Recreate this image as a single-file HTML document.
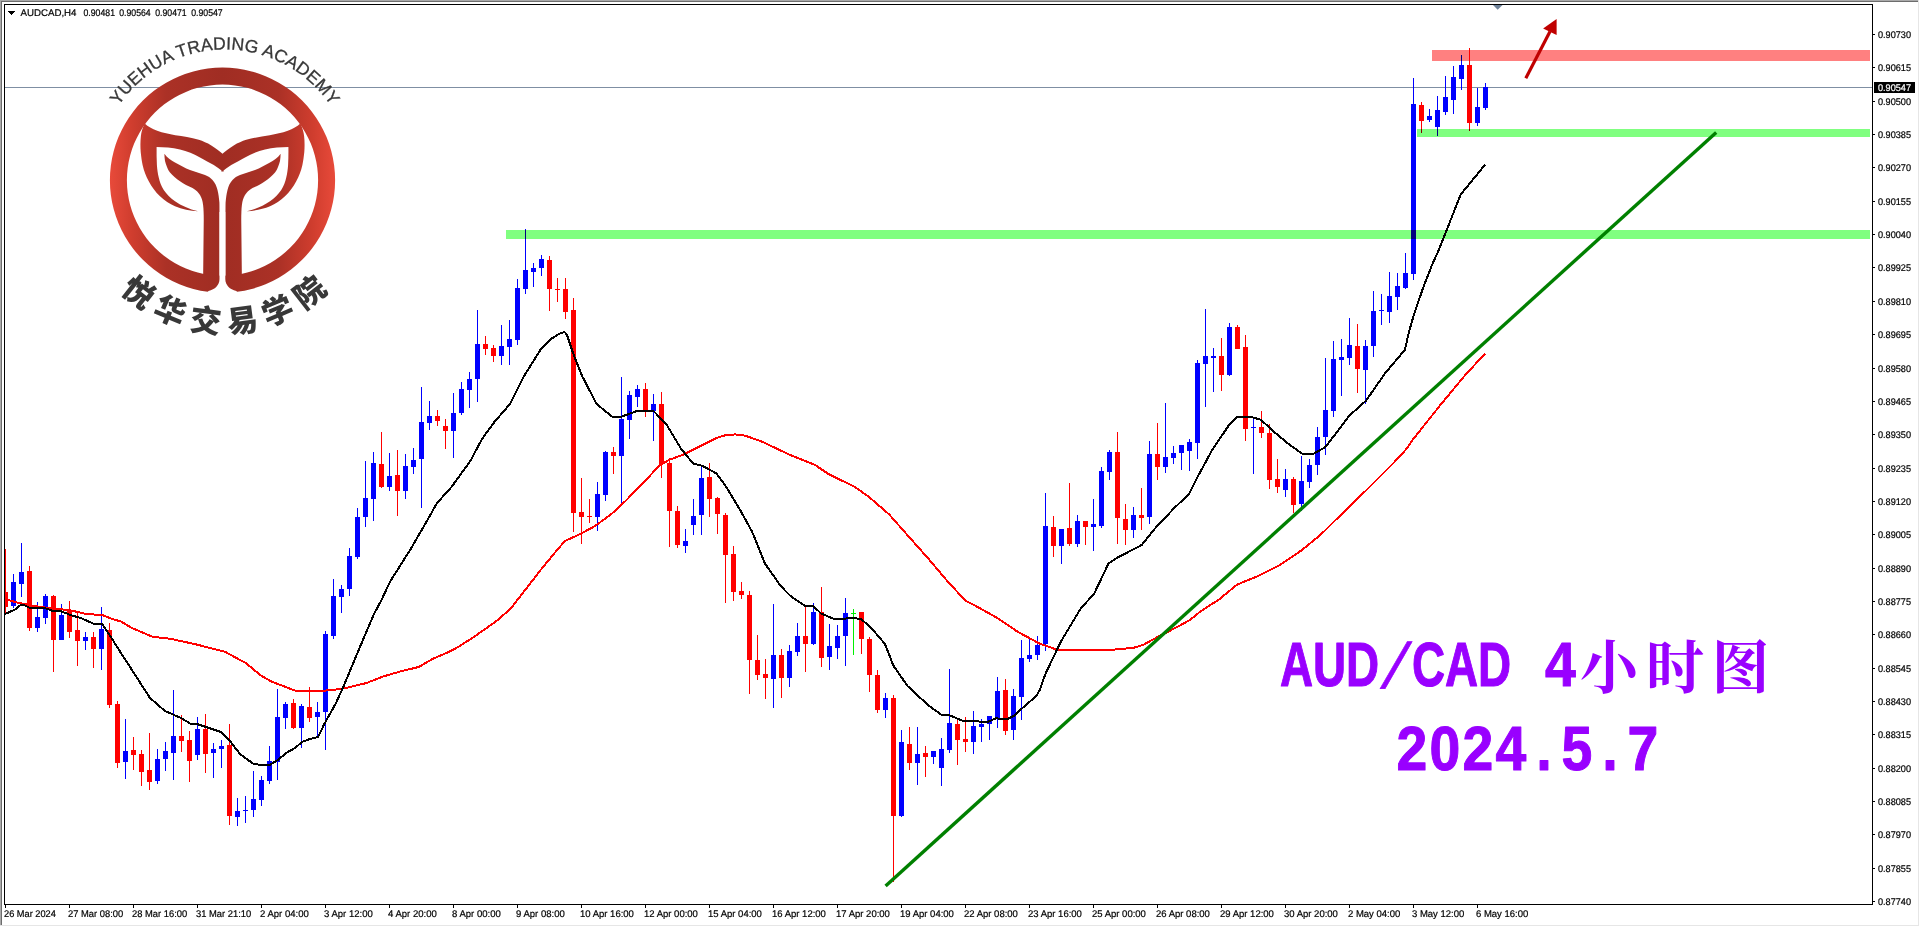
<!DOCTYPE html>
<html lang="zh"><head><meta charset="utf-8"><title>AUDCAD,H4</title>
<style>html,body{margin:0;padding:0;background:#fff;overflow:hidden}svg{display:block}.ax{font-family:"Liberation Sans",sans-serif;font-size:9.7px;fill:#000;stroke:#000;stroke-width:0.2px;text-rendering:geometricPrecision}.ttl{font-family:"Liberation Sans",sans-serif;font-size:9.7px;fill:#000;stroke:#000;stroke-width:0.2px;text-rendering:geometricPrecision}.big{font-family:"Liberation Sans","Noto Serif CJK SC",serif;font-weight:bold;fill:#9900ff}.lat{stroke:#9900ff;stroke-width:1px;stroke-linejoin:round}.cn{font-family:"Liberation Sans","Noto Sans CJK SC",sans-serif;font-weight:900;fill:#383838;font-size:31px;text-anchor:middle}.en{font-family:"Liberation Sans",sans-serif;fill:#383838;font-size:17.6px;stroke:#383838;stroke-width:0.3px}</style></head><body>
<svg width="1920" height="927" viewBox="0 0 1920 927">
<defs><linearGradient id="lg" gradientUnits="userSpaceOnUse" x1="110" y1="0" x2="335" y2="0"><stop offset="0" stop-color="#e84a3a"/><stop offset="0.1" stop-color="#cf3d2e"/><stop offset="0.25" stop-color="#ab3126"/><stop offset="0.5" stop-color="#a02d23"/><stop offset="0.75" stop-color="#ab3126"/><stop offset="0.9" stop-color="#cf3d2e"/><stop offset="1" stop-color="#e84a3a"/></linearGradient></defs>
<rect width="1920" height="927" fill="#fff"/>
<g shape-rendering="crispEdges">
<rect x="0" y="0" width="1918" height="1" fill="#a9a9a9"/>
<rect x="1" y="1" width="1917" height="1" fill="#6d6d6d"/>
<rect x="0" y="0" width="1" height="926" fill="#a9a9a9"/>
<rect x="1" y="1" width="1" height="924" fill="#6d6d6d"/>
<rect x="1918" y="0" width="1" height="926" fill="#e6e6e6"/>
<rect x="0" y="925" width="1919" height="1" fill="#e6e6e6"/>
</g>
<rect x="5" y="87" width="1867" height="1" fill="#7f8fa3" shape-rendering="crispEdges"/>
<g id="logo">
<path fill="url(#lg)" fill-rule="evenodd" d="M222.5,67.6a112.6,112.6 0 1 0 0.01,0Z M222.5,84.6a95.6,95.6 0 1 1 -0.01,0Z"/>
<path fill="url(#lg)" d="M223.4,154.4 C220,151.3 216,148.3 211.3,145.4 C207,142.9 203,141.2 198.75,139.8 C191,137.6 183,136.4 175.3,135.3 C169,134.2 163,132.8 157.2,130.8 C152,129 148,126.5 144.7,123.5 C142.5,128 141.3,132 140.9,136 C140.3,141 140.3,147 140.7,152 C141.2,157 141.8,161 142.6,165 C144,171 146,176.5 148.75,181.25 C151.8,187 155.5,192 160,196.25 C164.5,200.5 169.5,203.8 175,206.25 C182,209.2 190,210.7 198.1,211.25 C189,209 181.5,205.8 175,201.25 C170.3,197.9 166.6,194.2 163.75,190 C161.3,186.2 159.7,182 158.75,177.5 C157.7,173.5 157.2,169.3 156.9,165 C156.6,159 156.5,153 156.6,146.9 C164,146.9 172,147.6 180,149.4 C187,151 194,154 200,157.5 C205,160.3 209.5,162.6 213.75,165 C217,167 220,169.3 223.4,171.9 Z"/><path fill="url(#lg)" d="M164.4,153.75 C167,157.5 171,160.3 175,162.5 C180,165.3 185,168 190,170 C195,172 200,173.2 205,175 C208,176.2 210.5,177.8 212.5,180 C215,182.8 216.6,186 217.5,190 C218.5,194 219,198 219.4,202.5 C219.5,206 219.5,210 219.5,214.6 L219.5,279 C219.5,285 215,289.5 208.5,291 L203,289 L203.75,220 C203.75,217 203.7,214.5 203.6,212 C203.5,209.5 203.4,207 203.1,205 C202.8,203 202.5,201 202,199.5 C201.5,198 200.8,196.3 200,195 C199,193.5 198,192.3 197,191.3 C195.5,190 194,189 192.5,188.1 C190.5,187 188,186 186,185 C184,184 182,182.7 180,181.25 C178,180 176.2,178.6 174.5,177 C172.8,175.5 171.3,174 170,172.5 C168.7,171 167.8,169 167,167 C166.2,165 165.5,163 165,161 C164.6,158.5 164.4,156 164.4,153.75 Z"/>
<g transform="translate(445,0) scale(-1,1)"><path fill="url(#lg)" d="M223.4,154.4 C220,151.3 216,148.3 211.3,145.4 C207,142.9 203,141.2 198.75,139.8 C191,137.6 183,136.4 175.3,135.3 C169,134.2 163,132.8 157.2,130.8 C152,129 148,126.5 144.7,123.5 C142.5,128 141.3,132 140.9,136 C140.3,141 140.3,147 140.7,152 C141.2,157 141.8,161 142.6,165 C144,171 146,176.5 148.75,181.25 C151.8,187 155.5,192 160,196.25 C164.5,200.5 169.5,203.8 175,206.25 C182,209.2 190,210.7 198.1,211.25 C189,209 181.5,205.8 175,201.25 C170.3,197.9 166.6,194.2 163.75,190 C161.3,186.2 159.7,182 158.75,177.5 C157.7,173.5 157.2,169.3 156.9,165 C156.6,159 156.5,153 156.6,146.9 C164,146.9 172,147.6 180,149.4 C187,151 194,154 200,157.5 C205,160.3 209.5,162.6 213.75,165 C217,167 220,169.3 223.4,171.9 Z"/><path fill="url(#lg)" d="M164.4,153.75 C167,157.5 171,160.3 175,162.5 C180,165.3 185,168 190,170 C195,172 200,173.2 205,175 C208,176.2 210.5,177.8 212.5,180 C215,182.8 216.6,186 217.5,190 C218.5,194 219,198 219.4,202.5 C219.5,206 219.5,210 219.5,214.6 L219.5,279 C219.5,285 215,289.5 208.5,291 L203,289 L203.75,220 C203.75,217 203.7,214.5 203.6,212 C203.5,209.5 203.4,207 203.1,205 C202.8,203 202.5,201 202,199.5 C201.5,198 200.8,196.3 200,195 C199,193.5 198,192.3 197,191.3 C195.5,190 194,189 192.5,188.1 C190.5,187 188,186 186,185 C184,184 182,182.7 180,181.25 C178,180 176.2,178.6 174.5,177 C172.8,175.5 171.3,174 170,172.5 C168.7,171 167.8,169 167,167 C166.2,165 165.5,163 165,161 C164.6,158.5 164.4,156 164.4,153.75 Z"/></g>
<path fill="#fff" d="M219.5,212 L219.5,279 C219.5,285 215,289.5 208.5,291 L206,294 L238.8,294 L236.3,291 C229.8,289.5 225.3,285 225.3,279 L225.3,212 Z"/>
<path id="arc1" fill="none" d="M104.37,133.72 A128.0,128.0 0 0 1 344.93,133.72"/>
<text class="en" text-anchor="middle"><textPath href="#arc1" startOffset="50%" textLength="250" lengthAdjust="spacing">YUEHUA TRADING ACADEMY</textPath></text>
<g><text class="cn" transform="translate(138.4,292.5) rotate(38)" y="11">悦</text><text class="cn" transform="translate(170.1,311.1) rotate(22.8)" y="11">华</text><text class="cn" transform="translate(205.6,320.8) rotate(7.6)" y="11">交</text><text class="cn" transform="translate(242.4,320.8) rotate(-7.6)" y="11">易</text><text class="cn" transform="translate(277.9,311.1) rotate(-22.8)" y="11">学</text><text class="cn" transform="translate(309.6,292.5) rotate(-38)" y="11">院</text></g>
</g>
<g shape-rendering="crispEdges">
<rect x="5" y="549" width="1" height="64" fill="#ff0000"/>
<rect x="5" y="592" width="3" height="15" fill="#ff0000"/>
<rect x="13" y="574" width="1" height="34" fill="#0000ff"/>
<rect x="11" y="582" width="5" height="24" fill="#0000ff"/>
<rect x="21" y="543" width="1" height="54" fill="#0000ff"/>
<rect x="19" y="572" width="5" height="12" fill="#0000ff"/>
<rect x="29" y="566" width="1" height="65" fill="#ff0000"/>
<rect x="27" y="571" width="5" height="57" fill="#ff0000"/>
<rect x="37" y="602" width="1" height="30" fill="#0000ff"/>
<rect x="35" y="617" width="5" height="11" fill="#0000ff"/>
<rect x="45" y="594" width="1" height="30" fill="#0000ff"/>
<rect x="43" y="596" width="5" height="22" fill="#0000ff"/>
<rect x="53" y="595" width="1" height="77" fill="#ff0000"/>
<rect x="51" y="596" width="5" height="44" fill="#ff0000"/>
<rect x="61" y="604" width="1" height="36" fill="#0000ff"/>
<rect x="59" y="615" width="5" height="25" fill="#0000ff"/>
<rect x="69" y="601" width="1" height="37" fill="#ff0000"/>
<rect x="67" y="611" width="5" height="21" fill="#ff0000"/>
<rect x="77" y="613" width="1" height="53" fill="#ff0000"/>
<rect x="75" y="630" width="5" height="11" fill="#ff0000"/>
<rect x="85" y="632" width="1" height="18" fill="#0000ff"/>
<rect x="83" y="637" width="5" height="4" fill="#0000ff"/>
<rect x="93" y="632" width="1" height="36" fill="#ff0000"/>
<rect x="91" y="637" width="5" height="12" fill="#ff0000"/>
<rect x="101" y="607" width="1" height="63" fill="#0000ff"/>
<rect x="99" y="629" width="5" height="20" fill="#0000ff"/>
<rect x="109" y="623" width="1" height="85" fill="#ff0000"/>
<rect x="107" y="630" width="5" height="75" fill="#ff0000"/>
<rect x="117" y="701" width="1" height="67" fill="#ff0000"/>
<rect x="115" y="704" width="5" height="59" fill="#ff0000"/>
<rect x="125" y="719" width="1" height="60" fill="#0000ff"/>
<rect x="123" y="751" width="5" height="11" fill="#0000ff"/>
<rect x="133" y="737" width="1" height="33" fill="#ff0000"/>
<rect x="131" y="750" width="5" height="5" fill="#ff0000"/>
<rect x="141" y="750" width="1" height="36" fill="#ff0000"/>
<rect x="139" y="754" width="5" height="18" fill="#ff0000"/>
<rect x="149" y="733" width="1" height="57" fill="#ff0000"/>
<rect x="147" y="770" width="5" height="12" fill="#ff0000"/>
<rect x="157" y="749" width="1" height="35" fill="#0000ff"/>
<rect x="155" y="759" width="5" height="22" fill="#0000ff"/>
<rect x="165" y="742" width="1" height="29" fill="#0000ff"/>
<rect x="163" y="751" width="5" height="8" fill="#0000ff"/>
<rect x="173" y="690" width="1" height="90" fill="#0000ff"/>
<rect x="171" y="736" width="5" height="17" fill="#0000ff"/>
<rect x="181" y="715" width="1" height="37" fill="#ff0000"/>
<rect x="179" y="736" width="5" height="5" fill="#ff0000"/>
<rect x="189" y="731" width="1" height="51" fill="#ff0000"/>
<rect x="187" y="740" width="5" height="21" fill="#ff0000"/>
<rect x="197" y="717" width="1" height="43" fill="#0000ff"/>
<rect x="195" y="729" width="5" height="26" fill="#0000ff"/>
<rect x="205" y="714" width="1" height="59" fill="#ff0000"/>
<rect x="203" y="729" width="5" height="25" fill="#ff0000"/>
<rect x="213" y="743" width="1" height="35" fill="#0000ff"/>
<rect x="211" y="749" width="5" height="4" fill="#0000ff"/>
<rect x="221" y="740" width="1" height="28" fill="#0000ff"/>
<rect x="219" y="746" width="5" height="3" fill="#0000ff"/>
<rect x="229" y="724" width="1" height="101" fill="#ff0000"/>
<rect x="227" y="745" width="5" height="71" fill="#ff0000"/>
<rect x="237" y="798" width="1" height="28" fill="#0000ff"/>
<rect x="235" y="811" width="5" height="6" fill="#0000ff"/>
<rect x="245" y="796" width="1" height="27" fill="#0000ff"/>
<rect x="243" y="810" width="5" height="1" fill="#0000ff"/>
<rect x="253" y="771" width="1" height="46" fill="#0000ff"/>
<rect x="251" y="799" width="5" height="11" fill="#0000ff"/>
<rect x="261" y="776" width="1" height="30" fill="#0000ff"/>
<rect x="259" y="780" width="5" height="20" fill="#0000ff"/>
<rect x="269" y="746" width="1" height="38" fill="#0000ff"/>
<rect x="267" y="761" width="5" height="20" fill="#0000ff"/>
<rect x="277" y="689" width="1" height="91" fill="#0000ff"/>
<rect x="275" y="717" width="5" height="45" fill="#0000ff"/>
<rect x="285" y="702" width="1" height="27" fill="#0000ff"/>
<rect x="283" y="704" width="5" height="14" fill="#0000ff"/>
<rect x="293" y="699" width="1" height="30" fill="#ff0000"/>
<rect x="291" y="703" width="5" height="25" fill="#ff0000"/>
<rect x="301" y="704" width="1" height="44" fill="#0000ff"/>
<rect x="299" y="706" width="5" height="22" fill="#0000ff"/>
<rect x="309" y="687" width="1" height="35" fill="#ff0000"/>
<rect x="307" y="707" width="5" height="11" fill="#ff0000"/>
<rect x="317" y="702" width="1" height="35" fill="#0000ff"/>
<rect x="315" y="712" width="5" height="5" fill="#0000ff"/>
<rect x="325" y="631" width="1" height="119" fill="#0000ff"/>
<rect x="323" y="634" width="5" height="78" fill="#0000ff"/>
<rect x="333" y="579" width="1" height="60" fill="#0000ff"/>
<rect x="331" y="596" width="5" height="40" fill="#0000ff"/>
<rect x="341" y="585" width="1" height="28" fill="#0000ff"/>
<rect x="339" y="589" width="5" height="8" fill="#0000ff"/>
<rect x="349" y="548" width="1" height="48" fill="#0000ff"/>
<rect x="347" y="556" width="5" height="33" fill="#0000ff"/>
<rect x="357" y="508" width="1" height="51" fill="#0000ff"/>
<rect x="355" y="517" width="5" height="40" fill="#0000ff"/>
<rect x="365" y="461" width="1" height="66" fill="#0000ff"/>
<rect x="363" y="498" width="5" height="19" fill="#0000ff"/>
<rect x="373" y="452" width="1" height="69" fill="#0000ff"/>
<rect x="371" y="463" width="5" height="36" fill="#0000ff"/>
<rect x="381" y="432" width="1" height="56" fill="#ff0000"/>
<rect x="379" y="464" width="5" height="23" fill="#ff0000"/>
<rect x="389" y="453" width="1" height="38" fill="#0000ff"/>
<rect x="387" y="476" width="5" height="11" fill="#0000ff"/>
<rect x="397" y="450" width="1" height="66" fill="#ff0000"/>
<rect x="395" y="475" width="5" height="16" fill="#ff0000"/>
<rect x="405" y="454" width="1" height="45" fill="#0000ff"/>
<rect x="403" y="466" width="5" height="25" fill="#0000ff"/>
<rect x="413" y="448" width="1" height="26" fill="#0000ff"/>
<rect x="411" y="460" width="5" height="7" fill="#0000ff"/>
<rect x="421" y="387" width="1" height="121" fill="#0000ff"/>
<rect x="419" y="422" width="5" height="37" fill="#0000ff"/>
<rect x="429" y="401" width="1" height="29" fill="#0000ff"/>
<rect x="427" y="416" width="5" height="7" fill="#0000ff"/>
<rect x="437" y="410" width="1" height="16" fill="#ff0000"/>
<rect x="435" y="416" width="5" height="5" fill="#ff0000"/>
<rect x="445" y="419" width="1" height="30" fill="#ff0000"/>
<rect x="443" y="426" width="5" height="5" fill="#ff0000"/>
<rect x="453" y="393" width="1" height="65" fill="#0000ff"/>
<rect x="451" y="413" width="5" height="18" fill="#0000ff"/>
<rect x="461" y="382" width="1" height="33" fill="#0000ff"/>
<rect x="459" y="389" width="5" height="24" fill="#0000ff"/>
<rect x="469" y="372" width="1" height="36" fill="#0000ff"/>
<rect x="467" y="379" width="5" height="11" fill="#0000ff"/>
<rect x="477" y="310" width="1" height="92" fill="#0000ff"/>
<rect x="475" y="344" width="5" height="35" fill="#0000ff"/>
<rect x="485" y="336" width="1" height="19" fill="#ff0000"/>
<rect x="483" y="344" width="5" height="5" fill="#ff0000"/>
<rect x="493" y="345" width="1" height="17" fill="#ff0000"/>
<rect x="491" y="348" width="5" height="8" fill="#ff0000"/>
<rect x="501" y="325" width="1" height="40" fill="#0000ff"/>
<rect x="499" y="346" width="5" height="10" fill="#0000ff"/>
<rect x="509" y="320" width="1" height="45" fill="#0000ff"/>
<rect x="507" y="339" width="5" height="8" fill="#0000ff"/>
<rect x="517" y="279" width="1" height="66" fill="#0000ff"/>
<rect x="515" y="288" width="5" height="52" fill="#0000ff"/>
<rect x="525" y="229" width="1" height="65" fill="#0000ff"/>
<rect x="523" y="270" width="5" height="19" fill="#0000ff"/>
<rect x="533" y="263" width="1" height="24" fill="#0000ff"/>
<rect x="531" y="268" width="5" height="4" fill="#0000ff"/>
<rect x="541" y="255" width="1" height="21" fill="#0000ff"/>
<rect x="539" y="259" width="5" height="9" fill="#0000ff"/>
<rect x="549" y="256" width="1" height="55" fill="#ff0000"/>
<rect x="547" y="260" width="5" height="29" fill="#ff0000"/>
<rect x="557" y="278" width="1" height="24" fill="#ff0000"/>
<rect x="555" y="289" width="5" height="1" fill="#ff0000"/>
<rect x="565" y="278" width="1" height="41" fill="#ff0000"/>
<rect x="563" y="289" width="5" height="23" fill="#ff0000"/>
<rect x="573" y="298" width="1" height="234" fill="#ff0000"/>
<rect x="571" y="310" width="5" height="203" fill="#ff0000"/>
<rect x="581" y="478" width="1" height="66" fill="#ff0000"/>
<rect x="579" y="512" width="5" height="5" fill="#ff0000"/>
<rect x="589" y="499" width="1" height="24" fill="#ff0000"/>
<rect x="587" y="516" width="5" height="1" fill="#ff0000"/>
<rect x="597" y="482" width="1" height="49" fill="#0000ff"/>
<rect x="595" y="494" width="5" height="23" fill="#0000ff"/>
<rect x="605" y="451" width="1" height="50" fill="#0000ff"/>
<rect x="603" y="452" width="5" height="43" fill="#0000ff"/>
<rect x="613" y="447" width="1" height="27" fill="#ff0000"/>
<rect x="611" y="452" width="5" height="4" fill="#ff0000"/>
<rect x="621" y="377" width="1" height="127" fill="#0000ff"/>
<rect x="619" y="419" width="5" height="37" fill="#0000ff"/>
<rect x="629" y="391" width="1" height="48" fill="#0000ff"/>
<rect x="627" y="395" width="5" height="25" fill="#0000ff"/>
<rect x="637" y="385" width="1" height="22" fill="#0000ff"/>
<rect x="635" y="389" width="5" height="8" fill="#0000ff"/>
<rect x="645" y="383" width="1" height="34" fill="#ff0000"/>
<rect x="643" y="389" width="5" height="22" fill="#ff0000"/>
<rect x="653" y="394" width="1" height="47" fill="#0000ff"/>
<rect x="651" y="404" width="5" height="7" fill="#0000ff"/>
<rect x="661" y="392" width="1" height="86" fill="#ff0000"/>
<rect x="659" y="404" width="5" height="60" fill="#ff0000"/>
<rect x="669" y="458" width="1" height="89" fill="#ff0000"/>
<rect x="667" y="463" width="5" height="48" fill="#ff0000"/>
<rect x="677" y="506" width="1" height="42" fill="#ff0000"/>
<rect x="675" y="511" width="5" height="34" fill="#ff0000"/>
<rect x="685" y="529" width="1" height="24" fill="#0000ff"/>
<rect x="683" y="541" width="5" height="5" fill="#0000ff"/>
<rect x="693" y="499" width="1" height="36" fill="#0000ff"/>
<rect x="691" y="516" width="5" height="9" fill="#0000ff"/>
<rect x="701" y="466" width="1" height="69" fill="#0000ff"/>
<rect x="699" y="478" width="5" height="37" fill="#0000ff"/>
<rect x="709" y="463" width="1" height="54" fill="#ff0000"/>
<rect x="707" y="477" width="5" height="22" fill="#ff0000"/>
<rect x="717" y="497" width="1" height="37" fill="#ff0000"/>
<rect x="715" y="498" width="5" height="16" fill="#ff0000"/>
<rect x="725" y="513" width="1" height="90" fill="#ff0000"/>
<rect x="723" y="515" width="5" height="40" fill="#ff0000"/>
<rect x="733" y="546" width="1" height="55" fill="#ff0000"/>
<rect x="731" y="554" width="5" height="38" fill="#ff0000"/>
<rect x="741" y="582" width="1" height="17" fill="#ff0000"/>
<rect x="739" y="591" width="5" height="4" fill="#ff0000"/>
<rect x="749" y="591" width="1" height="103" fill="#ff0000"/>
<rect x="747" y="595" width="5" height="65" fill="#ff0000"/>
<rect x="757" y="635" width="1" height="45" fill="#ff0000"/>
<rect x="755" y="660" width="5" height="15" fill="#ff0000"/>
<rect x="765" y="659" width="1" height="40" fill="#ff0000"/>
<rect x="763" y="674" width="5" height="4" fill="#ff0000"/>
<rect x="773" y="604" width="1" height="104" fill="#0000ff"/>
<rect x="771" y="655" width="5" height="24" fill="#0000ff"/>
<rect x="781" y="649" width="1" height="49" fill="#ff0000"/>
<rect x="779" y="655" width="5" height="23" fill="#ff0000"/>
<rect x="789" y="645" width="1" height="42" fill="#0000ff"/>
<rect x="787" y="651" width="5" height="27" fill="#0000ff"/>
<rect x="797" y="623" width="1" height="33" fill="#0000ff"/>
<rect x="795" y="636" width="5" height="16" fill="#0000ff"/>
<rect x="805" y="607" width="1" height="65" fill="#ff0000"/>
<rect x="803" y="636" width="5" height="8" fill="#ff0000"/>
<rect x="813" y="603" width="1" height="42" fill="#0000ff"/>
<rect x="811" y="612" width="5" height="32" fill="#0000ff"/>
<rect x="821" y="587" width="1" height="80" fill="#ff0000"/>
<rect x="819" y="612" width="5" height="46" fill="#ff0000"/>
<rect x="829" y="624" width="1" height="46" fill="#0000ff"/>
<rect x="827" y="646" width="5" height="11" fill="#0000ff"/>
<rect x="837" y="625" width="1" height="34" fill="#0000ff"/>
<rect x="835" y="636" width="5" height="12" fill="#0000ff"/>
<rect x="845" y="598" width="1" height="68" fill="#0000ff"/>
<rect x="843" y="613" width="5" height="23" fill="#0000ff"/>
<rect x="853" y="609" width="1" height="46" fill="#00f000"/>
<rect x="851" y="613" width="5" height="1" fill="#00f000"/>
<rect x="861" y="612" width="1" height="42" fill="#ff0000"/>
<rect x="859" y="612" width="5" height="27" fill="#ff0000"/>
<rect x="869" y="637" width="1" height="55" fill="#ff0000"/>
<rect x="867" y="639" width="5" height="36" fill="#ff0000"/>
<rect x="877" y="670" width="1" height="43" fill="#ff0000"/>
<rect x="875" y="675" width="5" height="35" fill="#ff0000"/>
<rect x="885" y="693" width="1" height="25" fill="#0000ff"/>
<rect x="883" y="698" width="5" height="12" fill="#0000ff"/>
<rect x="893" y="695" width="1" height="187" fill="#ff0000"/>
<rect x="891" y="698" width="5" height="118" fill="#ff0000"/>
<rect x="901" y="730" width="1" height="87" fill="#0000ff"/>
<rect x="899" y="742" width="5" height="74" fill="#0000ff"/>
<rect x="909" y="727" width="1" height="43" fill="#ff0000"/>
<rect x="907" y="744" width="5" height="19" fill="#ff0000"/>
<rect x="917" y="727" width="1" height="58" fill="#0000ff"/>
<rect x="915" y="754" width="5" height="9" fill="#0000ff"/>
<rect x="925" y="746" width="1" height="31" fill="#ff0000"/>
<rect x="923" y="753" width="5" height="4" fill="#ff0000"/>
<rect x="933" y="751" width="1" height="13" fill="#0000ff"/>
<rect x="931" y="751" width="5" height="6" fill="#0000ff"/>
<rect x="941" y="738" width="1" height="48" fill="#0000ff"/>
<rect x="939" y="749" width="5" height="19" fill="#0000ff"/>
<rect x="949" y="669" width="1" height="84" fill="#0000ff"/>
<rect x="947" y="723" width="5" height="27" fill="#0000ff"/>
<rect x="957" y="719" width="1" height="46" fill="#ff0000"/>
<rect x="955" y="724" width="5" height="16" fill="#ff0000"/>
<rect x="965" y="717" width="1" height="35" fill="#ff0000"/>
<rect x="963" y="739" width="5" height="3" fill="#ff0000"/>
<rect x="973" y="711" width="1" height="43" fill="#0000ff"/>
<rect x="971" y="726" width="5" height="16" fill="#0000ff"/>
<rect x="981" y="719" width="1" height="23" fill="#0000ff"/>
<rect x="979" y="724" width="5" height="3" fill="#0000ff"/>
<rect x="989" y="716" width="1" height="24" fill="#0000ff"/>
<rect x="987" y="716" width="5" height="8" fill="#0000ff"/>
<rect x="997" y="677" width="1" height="51" fill="#0000ff"/>
<rect x="995" y="691" width="5" height="27" fill="#0000ff"/>
<rect x="1005" y="679" width="1" height="56" fill="#ff0000"/>
<rect x="1003" y="690" width="5" height="41" fill="#ff0000"/>
<rect x="1013" y="689" width="1" height="51" fill="#0000ff"/>
<rect x="1011" y="696" width="5" height="34" fill="#0000ff"/>
<rect x="1021" y="640" width="1" height="80" fill="#0000ff"/>
<rect x="1019" y="658" width="5" height="39" fill="#0000ff"/>
<rect x="1029" y="639" width="1" height="23" fill="#0000ff"/>
<rect x="1027" y="655" width="5" height="4" fill="#0000ff"/>
<rect x="1037" y="636" width="1" height="24" fill="#0000ff"/>
<rect x="1035" y="645" width="5" height="10" fill="#0000ff"/>
<rect x="1045" y="493" width="1" height="158" fill="#0000ff"/>
<rect x="1043" y="526" width="5" height="118" fill="#0000ff"/>
<rect x="1053" y="516" width="1" height="41" fill="#ff0000"/>
<rect x="1051" y="527" width="5" height="19" fill="#ff0000"/>
<rect x="1061" y="529" width="1" height="35" fill="#0000ff"/>
<rect x="1059" y="529" width="5" height="17" fill="#0000ff"/>
<rect x="1069" y="483" width="1" height="63" fill="#ff0000"/>
<rect x="1067" y="528" width="5" height="16" fill="#ff0000"/>
<rect x="1077" y="515" width="1" height="32" fill="#0000ff"/>
<rect x="1075" y="521" width="5" height="23" fill="#0000ff"/>
<rect x="1085" y="521" width="1" height="24" fill="#ff0000"/>
<rect x="1083" y="521" width="5" height="6" fill="#ff0000"/>
<rect x="1093" y="499" width="1" height="52" fill="#0000ff"/>
<rect x="1091" y="524" width="5" height="3" fill="#0000ff"/>
<rect x="1101" y="467" width="1" height="61" fill="#0000ff"/>
<rect x="1099" y="471" width="5" height="55" fill="#0000ff"/>
<rect x="1109" y="450" width="1" height="30" fill="#0000ff"/>
<rect x="1107" y="452" width="5" height="20" fill="#0000ff"/>
<rect x="1117" y="432" width="1" height="112" fill="#ff0000"/>
<rect x="1115" y="452" width="5" height="66" fill="#ff0000"/>
<rect x="1125" y="504" width="1" height="41" fill="#ff0000"/>
<rect x="1123" y="519" width="5" height="11" fill="#ff0000"/>
<rect x="1133" y="507" width="1" height="31" fill="#0000ff"/>
<rect x="1131" y="515" width="5" height="15" fill="#0000ff"/>
<rect x="1141" y="488" width="1" height="42" fill="#ff0000"/>
<rect x="1139" y="515" width="5" height="3" fill="#ff0000"/>
<rect x="1149" y="441" width="1" height="83" fill="#0000ff"/>
<rect x="1147" y="454" width="5" height="63" fill="#0000ff"/>
<rect x="1157" y="423" width="1" height="57" fill="#ff0000"/>
<rect x="1155" y="454" width="5" height="13" fill="#ff0000"/>
<rect x="1165" y="403" width="1" height="70" fill="#0000ff"/>
<rect x="1163" y="457" width="5" height="10" fill="#0000ff"/>
<rect x="1173" y="446" width="1" height="18" fill="#0000ff"/>
<rect x="1171" y="453" width="5" height="5" fill="#0000ff"/>
<rect x="1181" y="445" width="1" height="25" fill="#0000ff"/>
<rect x="1179" y="445" width="5" height="8" fill="#0000ff"/>
<rect x="1189" y="439" width="1" height="32" fill="#0000ff"/>
<rect x="1187" y="442" width="5" height="9" fill="#0000ff"/>
<rect x="1197" y="360" width="1" height="99" fill="#0000ff"/>
<rect x="1195" y="363" width="5" height="80" fill="#0000ff"/>
<rect x="1205" y="309" width="1" height="98" fill="#0000ff"/>
<rect x="1203" y="356" width="5" height="8" fill="#0000ff"/>
<rect x="1213" y="348" width="1" height="44" fill="#0000ff"/>
<rect x="1211" y="356" width="5" height="2" fill="#0000ff"/>
<rect x="1221" y="338" width="1" height="53" fill="#ff0000"/>
<rect x="1219" y="356" width="5" height="19" fill="#ff0000"/>
<rect x="1229" y="323" width="1" height="53" fill="#0000ff"/>
<rect x="1227" y="327" width="5" height="48" fill="#0000ff"/>
<rect x="1237" y="325" width="1" height="24" fill="#ff0000"/>
<rect x="1235" y="327" width="5" height="22" fill="#ff0000"/>
<rect x="1245" y="335" width="1" height="106" fill="#ff0000"/>
<rect x="1243" y="347" width="5" height="82" fill="#ff0000"/>
<rect x="1253" y="419" width="1" height="55" fill="#0000ff"/>
<rect x="1251" y="427" width="5" height="1" fill="#0000ff"/>
<rect x="1261" y="411" width="1" height="27" fill="#ff0000"/>
<rect x="1259" y="427" width="5" height="6" fill="#ff0000"/>
<rect x="1269" y="424" width="1" height="65" fill="#ff0000"/>
<rect x="1267" y="433" width="5" height="47" fill="#ff0000"/>
<rect x="1277" y="459" width="1" height="34" fill="#ff0000"/>
<rect x="1275" y="479" width="5" height="8" fill="#ff0000"/>
<rect x="1285" y="469" width="1" height="28" fill="#0000ff"/>
<rect x="1283" y="479" width="5" height="11" fill="#0000ff"/>
<rect x="1293" y="477" width="1" height="36" fill="#ff0000"/>
<rect x="1291" y="479" width="5" height="26" fill="#ff0000"/>
<rect x="1301" y="456" width="1" height="55" fill="#0000ff"/>
<rect x="1299" y="481" width="5" height="23" fill="#0000ff"/>
<rect x="1309" y="459" width="1" height="29" fill="#0000ff"/>
<rect x="1307" y="465" width="5" height="17" fill="#0000ff"/>
<rect x="1317" y="427" width="1" height="48" fill="#0000ff"/>
<rect x="1315" y="437" width="5" height="28" fill="#0000ff"/>
<rect x="1325" y="358" width="1" height="97" fill="#0000ff"/>
<rect x="1323" y="410" width="5" height="27" fill="#0000ff"/>
<rect x="1333" y="341" width="1" height="76" fill="#0000ff"/>
<rect x="1331" y="359" width="5" height="52" fill="#0000ff"/>
<rect x="1341" y="339" width="1" height="57" fill="#0000ff"/>
<rect x="1339" y="357" width="5" height="3" fill="#0000ff"/>
<rect x="1349" y="318" width="1" height="47" fill="#0000ff"/>
<rect x="1347" y="345" width="5" height="13" fill="#0000ff"/>
<rect x="1357" y="324" width="1" height="69" fill="#ff0000"/>
<rect x="1355" y="346" width="5" height="23" fill="#ff0000"/>
<rect x="1365" y="340" width="1" height="64" fill="#0000ff"/>
<rect x="1363" y="346" width="5" height="24" fill="#0000ff"/>
<rect x="1373" y="291" width="1" height="66" fill="#0000ff"/>
<rect x="1371" y="311" width="5" height="35" fill="#0000ff"/>
<rect x="1381" y="294" width="1" height="31" fill="#0000ff"/>
<rect x="1379" y="310" width="5" height="1" fill="#0000ff"/>
<rect x="1389" y="272" width="1" height="51" fill="#0000ff"/>
<rect x="1387" y="296" width="5" height="16" fill="#0000ff"/>
<rect x="1397" y="273" width="1" height="37" fill="#0000ff"/>
<rect x="1395" y="286" width="5" height="11" fill="#0000ff"/>
<rect x="1405" y="253" width="1" height="36" fill="#0000ff"/>
<rect x="1403" y="273" width="5" height="15" fill="#0000ff"/>
<rect x="1413" y="78" width="1" height="202" fill="#0000ff"/>
<rect x="1411" y="104" width="5" height="170" fill="#0000ff"/>
<rect x="1421" y="102" width="1" height="31" fill="#ff0000"/>
<rect x="1419" y="105" width="5" height="16" fill="#ff0000"/>
<rect x="1429" y="109" width="1" height="13" fill="#0000ff"/>
<rect x="1427" y="116" width="5" height="4" fill="#0000ff"/>
<rect x="1437" y="96" width="1" height="40" fill="#0000ff"/>
<rect x="1435" y="110" width="5" height="17" fill="#0000ff"/>
<rect x="1445" y="76" width="1" height="39" fill="#0000ff"/>
<rect x="1443" y="97" width="5" height="15" fill="#0000ff"/>
<rect x="1453" y="66" width="1" height="48" fill="#0000ff"/>
<rect x="1451" y="77" width="5" height="23" fill="#0000ff"/>
<rect x="1461" y="55" width="1" height="35" fill="#0000ff"/>
<rect x="1459" y="65" width="5" height="14" fill="#0000ff"/>
<rect x="1469" y="48" width="1" height="83" fill="#ff0000"/>
<rect x="1467" y="65" width="5" height="58" fill="#ff0000"/>
<rect x="1477" y="88" width="1" height="38" fill="#0000ff"/>
<rect x="1475" y="107" width="5" height="16" fill="#0000ff"/>
<rect x="1485" y="83" width="1" height="27" fill="#0000ff"/>
<rect x="1483" y="87" width="5" height="21" fill="#0000ff"/>
</g>
<polyline shape-rendering="crispEdges" fill="none" stroke="#ff0000" stroke-width="2" stroke-linejoin="round" points="5.0,599.0 17.0,602.5 34.5,606.0 52.0,608.6 69.0,610.0 86.0,614.0 102.0,615.0 113.6,619.4 121.0,621.5 132.0,628.0 152.5,636.8 170.6,638.8 196.5,644.5 225.0,651.8 245.7,663.0 261.0,675.6 271.6,681.6 295.0,690.6 320.0,691.0 333.0,690.0 347.5,687.6 366.5,683.0 383.0,676.5 402.0,671.0 418.7,667.0 433.0,658.7 447.0,652.7 455.0,648.9 472.4,638.0 498.3,619.7 511.2,607.9 526.3,588.5 541.4,569.0 556.5,550.7 565.0,541.0 580.2,534.0 595.3,525.9 612.6,513.0 625.5,501.0 640.7,485.5 659.7,465.3 669.0,460.0 683.4,454.6 702.4,445.0 716.6,438.0 726.0,435.0 735.6,434.4 745.0,435.6 761.7,441.5 789.8,454.8 814.6,464.7 829.4,474.6 854.2,486.5 869.1,497.0 889.0,514.3 908.8,536.6 928.7,559.0 948.5,582.5 965.9,601.0 978.3,607.3 998.1,618.5 1018.0,632.0 1040.0,643.8 1055.0,649.0 1061.0,650.0 1109.7,650.0 1133.4,647.8 1143.0,645.0 1159.5,636.0 1176.0,627.6 1190.0,620.0 1200.0,611.8 1219.4,599.2 1236.9,584.7 1258.3,575.9 1279.6,565.2 1301.0,550.7 1320.4,535.0 1336.0,519.6 1353.4,503.0 1376.7,479.8 1394.2,462.3 1405.8,449.7 1412.6,440.0 1423.0,426.8 1442.0,403.0 1465.6,374.6 1485.0,353.7"/>
<polyline shape-rendering="crispEdges" fill="none" stroke="#000" stroke-width="2" stroke-linejoin="round" points="5.0,614.0 15.0,609.5 21.0,604.6 24.0,605.0 30.0,608.0 45.0,608.0 52.0,610.7 60.0,611.0 72.0,615.5 81.0,618.0 93.0,623.5 102.0,624.0 109.0,634.0 119.0,650.0 132.0,670.0 150.0,698.0 165.0,711.0 181.0,718.0 191.0,724.0 197.0,724.0 209.0,728.0 221.0,732.0 230.0,741.0 240.0,754.0 253.0,763.6 261.0,765.0 270.0,764.7 278.0,760.0 286.0,753.0 295.0,748.0 302.0,742.0 310.0,739.0 318.0,737.0 325.0,722.7 335.6,703.8 342.7,688.3 357.0,654.0 373.6,614.8 381.5,600.0 390.0,581.7 399.0,567.5 411.0,548.5 428.0,519.0 437.0,503.0 451.5,487.0 470.5,460.7 482.0,439.0 494.6,421.7 510.0,404.0 523.0,377.8 541.0,349.0 551.5,338.7 558.7,334.0 564.6,332.0 567.0,335.0 573.0,353.0 582.4,376.6 596.6,404.0 612.0,416.5 622.0,416.5 637.0,411.0 653.6,411.0 666.8,425.0 681.0,448.7 693.0,463.4 702.4,465.8 716.6,473.6 726.0,486.6 740.4,510.4 752.0,531.5 765.0,563.6 780.7,586.0 790.0,595.6 804.4,605.6 812.7,605.6 821.0,613.4 833.0,618.6 845.0,618.6 852.0,617.7 861.4,619.3 871.0,627.6 885.0,644.0 893.4,665.6 907.5,686.0 912.4,690.0 921.0,698.6 929.6,706.2 941.5,714.8 949.0,715.0 963.0,721.0 987.9,721.8 996.0,718.3 1002.0,718.9 1008.4,718.6 1013.8,715.9 1024.5,706.2 1036.4,696.0 1039.7,690.0 1045.6,673.4 1061.0,641.4 1081.0,608.0 1094.0,594.0 1108.5,563.5 1116.8,558.0 1141.7,545.0 1154.8,528.7 1173.8,508.5 1189.0,494.0 1196.7,478.6 1211.6,451.0 1229.0,425.0 1237.0,416.6 1251.0,417.0 1261.0,419.8 1273.6,431.5 1288.5,443.9 1302.0,453.6 1313.7,453.6 1325.6,447.0 1349.0,416.0 1366.0,400.7 1385.0,373.4 1405.0,349.7 1408.7,333.0 1413.4,316.5 1423.0,288.0 1432.4,264.0 1438.8,250.0 1460.7,194.5 1485.0,164.8"/>
<g style="mix-blend-mode:multiply" shape-rendering="crispEdges">
<rect x="1432" y="50" width="438" height="11" fill="#ff8080"/>
<rect x="1417" y="129" width="453" height="8" fill="#80ff80"/>
<rect x="506" y="230" width="1364" height="8.5" fill="#80ff80"/>
</g>
<line x1="885.6" y1="886" x2="1716.2" y2="132.4" stroke="#008000" stroke-width="3.4"/>
<line x1="1525.8" y1="78.2" x2="1550" y2="31.5" stroke="#c00000" stroke-width="3.2"/>
<path d="M1556.6,18.9 L1543.1,28.6 L1556.6,35.1 Z" fill="#c00000"/>
<path d="M1493,5 L1502.5,5 L1497.7,9.8 Z" fill="#6f8299"/>
<g shape-rendering="crispEdges" fill="#000">
<rect x="4" y="4" width="1869" height="1"/>
<rect x="4" y="4" width="1" height="901"/>
<rect x="1872" y="4" width="1" height="901"/>
<rect x="4" y="904" width="1869" height="1"/>
<rect x="1872" y="34" width="3" height="1"/>
<rect x="1872" y="67" width="3" height="1"/>
<rect x="1872" y="101" width="3" height="1"/>
<rect x="1872" y="134" width="3" height="1"/>
<rect x="1872" y="167" width="3" height="1"/>
<rect x="1872" y="201" width="3" height="1"/>
<rect x="1872" y="234" width="3" height="1"/>
<rect x="1872" y="267" width="3" height="1"/>
<rect x="1872" y="301" width="3" height="1"/>
<rect x="1872" y="334" width="3" height="1"/>
<rect x="1872" y="368" width="3" height="1"/>
<rect x="1872" y="401" width="3" height="1"/>
<rect x="1872" y="434" width="3" height="1"/>
<rect x="1872" y="468" width="3" height="1"/>
<rect x="1872" y="501" width="3" height="1"/>
<rect x="1872" y="534" width="3" height="1"/>
<rect x="1872" y="568" width="3" height="1"/>
<rect x="1872" y="601" width="3" height="1"/>
<rect x="1872" y="634" width="3" height="1"/>
<rect x="1872" y="668" width="3" height="1"/>
<rect x="1872" y="701" width="3" height="1"/>
<rect x="1872" y="734" width="3" height="1"/>
<rect x="1872" y="768" width="3" height="1"/>
<rect x="1872" y="801" width="3" height="1"/>
<rect x="1872" y="834" width="3" height="1"/>
<rect x="1872" y="868" width="3" height="1"/>
<rect x="1872" y="901" width="3" height="1"/>
<rect x="5" y="904" width="1" height="4"/>
<rect x="69" y="904" width="1" height="4"/>
<rect x="133" y="904" width="1" height="4"/>
<rect x="197" y="904" width="1" height="4"/>
<rect x="261" y="904" width="1" height="4"/>
<rect x="325" y="904" width="1" height="4"/>
<rect x="389" y="904" width="1" height="4"/>
<rect x="453" y="904" width="1" height="4"/>
<rect x="517" y="904" width="1" height="4"/>
<rect x="581" y="904" width="1" height="4"/>
<rect x="645" y="904" width="1" height="4"/>
<rect x="709" y="904" width="1" height="4"/>
<rect x="773" y="904" width="1" height="4"/>
<rect x="837" y="904" width="1" height="4"/>
<rect x="901" y="904" width="1" height="4"/>
<rect x="965" y="904" width="1" height="4"/>
<rect x="1029" y="904" width="1" height="4"/>
<rect x="1093" y="904" width="1" height="4"/>
<rect x="1157" y="904" width="1" height="4"/>
<rect x="1221" y="904" width="1" height="4"/>
<rect x="1285" y="904" width="1" height="4"/>
<rect x="1349" y="904" width="1" height="4"/>
<rect x="1413" y="904" width="1" height="4"/>
<rect x="1477" y="904" width="1" height="4"/>
</g>
<text class="ax" x="1878" y="37.6" textLength="33" lengthAdjust="spacingAndGlyphs">0.90730</text>
<text class="ax" x="1878" y="70.6" textLength="33" lengthAdjust="spacingAndGlyphs">0.90615</text>
<text class="ax" x="1878" y="104.6" textLength="33" lengthAdjust="spacingAndGlyphs">0.90500</text>
<text class="ax" x="1878" y="137.6" textLength="33" lengthAdjust="spacingAndGlyphs">0.90385</text>
<text class="ax" x="1878" y="170.6" textLength="33" lengthAdjust="spacingAndGlyphs">0.90270</text>
<text class="ax" x="1878" y="204.6" textLength="33" lengthAdjust="spacingAndGlyphs">0.90155</text>
<text class="ax" x="1878" y="237.6" textLength="33" lengthAdjust="spacingAndGlyphs">0.90040</text>
<text class="ax" x="1878" y="270.6" textLength="33" lengthAdjust="spacingAndGlyphs">0.89925</text>
<text class="ax" x="1878" y="304.6" textLength="33" lengthAdjust="spacingAndGlyphs">0.89810</text>
<text class="ax" x="1878" y="337.6" textLength="33" lengthAdjust="spacingAndGlyphs">0.89695</text>
<text class="ax" x="1878" y="371.6" textLength="33" lengthAdjust="spacingAndGlyphs">0.89580</text>
<text class="ax" x="1878" y="404.6" textLength="33" lengthAdjust="spacingAndGlyphs">0.89465</text>
<text class="ax" x="1878" y="437.6" textLength="33" lengthAdjust="spacingAndGlyphs">0.89350</text>
<text class="ax" x="1878" y="471.6" textLength="33" lengthAdjust="spacingAndGlyphs">0.89235</text>
<text class="ax" x="1878" y="504.6" textLength="33" lengthAdjust="spacingAndGlyphs">0.89120</text>
<text class="ax" x="1878" y="537.6" textLength="33" lengthAdjust="spacingAndGlyphs">0.89005</text>
<text class="ax" x="1878" y="571.6" textLength="33" lengthAdjust="spacingAndGlyphs">0.88890</text>
<text class="ax" x="1878" y="604.6" textLength="33" lengthAdjust="spacingAndGlyphs">0.88775</text>
<text class="ax" x="1878" y="637.6" textLength="33" lengthAdjust="spacingAndGlyphs">0.88660</text>
<text class="ax" x="1878" y="671.6" textLength="33" lengthAdjust="spacingAndGlyphs">0.88545</text>
<text class="ax" x="1878" y="704.6" textLength="33" lengthAdjust="spacingAndGlyphs">0.88430</text>
<text class="ax" x="1878" y="737.6" textLength="33" lengthAdjust="spacingAndGlyphs">0.88315</text>
<text class="ax" x="1878" y="771.6" textLength="33" lengthAdjust="spacingAndGlyphs">0.88200</text>
<text class="ax" x="1878" y="804.6" textLength="33" lengthAdjust="spacingAndGlyphs">0.88085</text>
<text class="ax" x="1878" y="837.6" textLength="33" lengthAdjust="spacingAndGlyphs">0.87970</text>
<text class="ax" x="1878" y="871.6" textLength="33" lengthAdjust="spacingAndGlyphs">0.87855</text>
<text class="ax" x="1878" y="904.6" textLength="33" lengthAdjust="spacingAndGlyphs">0.87740</text>
<rect x="1874" y="82" width="41" height="11" fill="#000" shape-rendering="crispEdges"/>
<text class="ax" x="1878" y="91.1" style="fill:#fff;stroke:#fff" textLength="33" lengthAdjust="spacingAndGlyphs">0.90547</text>
<text class="ax" x="4" y="917" textLength="51.9" lengthAdjust="spacingAndGlyphs">26 Mar 2024</text>
<text class="ax" x="68" y="917" textLength="55.2" lengthAdjust="spacingAndGlyphs">27 Mar 08:00</text>
<text class="ax" x="132" y="917" textLength="55.2" lengthAdjust="spacingAndGlyphs">28 Mar 16:00</text>
<text class="ax" x="196" y="917" textLength="55.2" lengthAdjust="spacingAndGlyphs">31 Mar 21:10</text>
<text class="ax" x="260" y="917" textLength="48.8" lengthAdjust="spacingAndGlyphs">2 Apr 04:00</text>
<text class="ax" x="324" y="917" textLength="48.8" lengthAdjust="spacingAndGlyphs">3 Apr 12:00</text>
<text class="ax" x="388" y="917" textLength="48.8" lengthAdjust="spacingAndGlyphs">4 Apr 20:00</text>
<text class="ax" x="452" y="917" textLength="48.8" lengthAdjust="spacingAndGlyphs">8 Apr 00:00</text>
<text class="ax" x="516" y="917" textLength="48.8" lengthAdjust="spacingAndGlyphs">9 Apr 08:00</text>
<text class="ax" x="580" y="917" textLength="53.9" lengthAdjust="spacingAndGlyphs">10 Apr 16:00</text>
<text class="ax" x="644" y="917" textLength="53.9" lengthAdjust="spacingAndGlyphs">12 Apr 00:00</text>
<text class="ax" x="708" y="917" textLength="53.9" lengthAdjust="spacingAndGlyphs">15 Apr 04:00</text>
<text class="ax" x="772" y="917" textLength="53.9" lengthAdjust="spacingAndGlyphs">16 Apr 12:00</text>
<text class="ax" x="836" y="917" textLength="53.9" lengthAdjust="spacingAndGlyphs">17 Apr 20:00</text>
<text class="ax" x="900" y="917" textLength="53.9" lengthAdjust="spacingAndGlyphs">19 Apr 04:00</text>
<text class="ax" x="964" y="917" textLength="53.9" lengthAdjust="spacingAndGlyphs">22 Apr 08:00</text>
<text class="ax" x="1028" y="917" textLength="53.9" lengthAdjust="spacingAndGlyphs">23 Apr 16:00</text>
<text class="ax" x="1092" y="917" textLength="53.9" lengthAdjust="spacingAndGlyphs">25 Apr 00:00</text>
<text class="ax" x="1156" y="917" textLength="53.9" lengthAdjust="spacingAndGlyphs">26 Apr 08:00</text>
<text class="ax" x="1220" y="917" textLength="53.9" lengthAdjust="spacingAndGlyphs">29 Apr 12:00</text>
<text class="ax" x="1284" y="917" textLength="53.9" lengthAdjust="spacingAndGlyphs">30 Apr 20:00</text>
<text class="ax" x="1348" y="917" textLength="52.3" lengthAdjust="spacingAndGlyphs">2 May 04:00</text>
<text class="ax" x="1412" y="917" textLength="52.3" lengthAdjust="spacingAndGlyphs">3 May 12:00</text>
<text class="ax" x="1476" y="917" textLength="52.3" lengthAdjust="spacingAndGlyphs">6 May 16:00</text>
<g shape-rendering="crispEdges" fill="#000"><rect x="8" y="11" width="7" height="1"/><rect x="9" y="12" width="5" height="1"/><rect x="10" y="13" width="3" height="1"/><rect x="11" y="14" width="1" height="1"/></g>
<text class="ttl" x="20.5" y="16.2" textLength="56" lengthAdjust="spacingAndGlyphs">AUDCAD,H4</text>
<text class="ttl" x="83.5" y="16.2" textLength="31.5" lengthAdjust="spacingAndGlyphs">0.90481</text>
<text class="ttl" x="119.2" y="16.2" textLength="31.5" lengthAdjust="spacingAndGlyphs">0.90564</text>
<text class="ttl" x="155.2" y="16.2" textLength="31.5" lengthAdjust="spacingAndGlyphs">0.90471</text>
<text class="ttl" x="191.2" y="16.2" textLength="31.5" lengthAdjust="spacingAndGlyphs">0.90547</text>
<g><text class="big lat" font-size="62.2" text-anchor="middle" transform="translate(1296.50,686.1) scale(0.737,1)" x="0" y="0">A</text><text class="big lat" font-size="62.2" text-anchor="middle" transform="translate(1329.50,686.1) scale(0.737,1)" x="0" y="0">U</text><text class="big lat" font-size="62.2" text-anchor="middle" transform="translate(1362.50,686.1) scale(0.737,1)" x="0" y="0">D</text><text class="big" style="font-weight:normal;stroke:#9900ff;stroke-width:0.6px" font-size="64" text-anchor="middle" transform="translate(1389.20,687.6) skewX(-17)" x="0" y="0">/</text><text class="big lat" font-size="62.2" text-anchor="middle" transform="translate(1428.50,686.1) scale(0.737,1)" x="0" y="0">C</text><text class="big lat" font-size="62.2" text-anchor="middle" transform="translate(1461.50,686.1) scale(0.737,1)" x="0" y="0">A</text><text class="big lat" font-size="62.2" text-anchor="middle" transform="translate(1494.50,686.1) scale(0.737,1)" x="0" y="0">D</text> <text class="big lat" font-size="62.2" text-anchor="middle" transform="translate(1560.50,686.1) scale(0.89,1)" x="0" y="0">4</text><text class="big" font-size="58" text-anchor="middle" x="1609" y="688">小</text><text class="big" font-size="58" text-anchor="middle" x="1675" y="688">时</text><text class="big" font-size="58" text-anchor="middle" x="1740.5" y="688">图</text></g>
<g><text class="big lat" font-size="62.2" text-anchor="middle" transform="translate(1412.00,769.6) scale(0.89,1)" x="0" y="0">2</text><text class="big lat" font-size="62.2" text-anchor="middle" transform="translate(1445.00,769.6) scale(0.89,1)" x="0" y="0">0</text><text class="big lat" font-size="62.2" text-anchor="middle" transform="translate(1478.00,769.6) scale(0.89,1)" x="0" y="0">2</text><text class="big lat" font-size="62.2" text-anchor="middle" transform="translate(1511.00,769.6) scale(0.89,1)" x="0" y="0">4</text><text class="big lat" font-size="62.2" text-anchor="middle" transform="translate(1544.00,769.6) scale(0.9,1)" x="0" y="0">.</text><text class="big lat" font-size="62.2" text-anchor="middle" transform="translate(1577.00,769.6) scale(0.89,1)" x="0" y="0">5</text><text class="big lat" font-size="62.2" text-anchor="middle" transform="translate(1610.00,769.6) scale(0.9,1)" x="0" y="0">.</text><text class="big lat" font-size="62.2" text-anchor="middle" transform="translate(1643.00,769.6) scale(0.89,1)" x="0" y="0">7</text></g>
</svg></body></html>
